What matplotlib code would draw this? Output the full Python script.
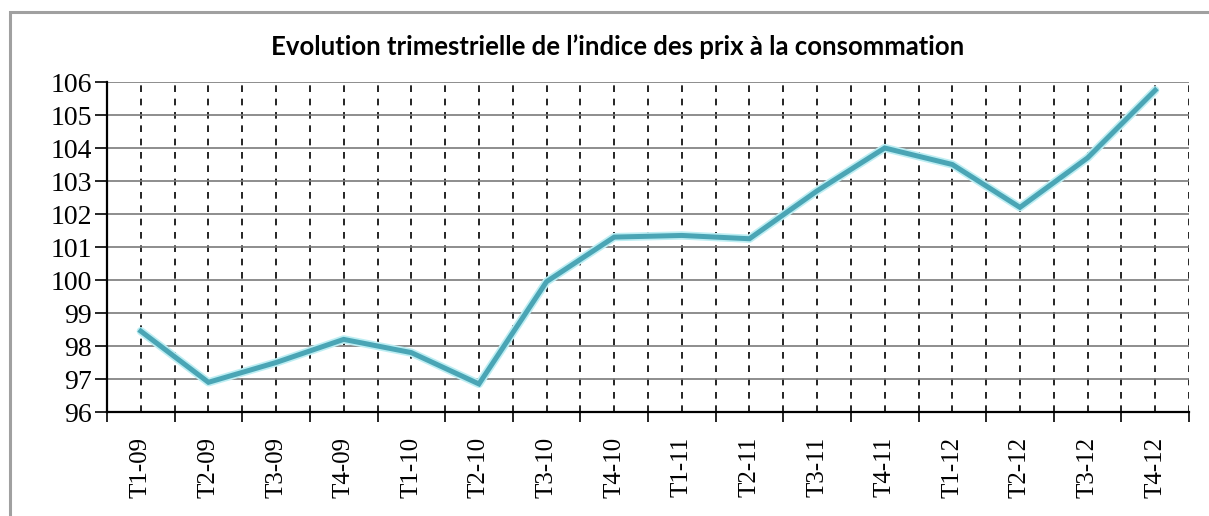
import matplotlib
matplotlib.use("Agg")
import matplotlib.pyplot as plt
from matplotlib.patches import Rectangle
import numpy as np

# Quarterly CPI values
quarters = ["T1-09", "T2-09", "T3-09", "T4-09",
            "T1-10", "T2-10", "T3-10", "T4-10",
            "T1-11", "T2-11", "T3-11", "T4-11",
            "T1-12", "T2-12", "T3-12", "T4-12"]
cpi = [98.45, 96.9, 97.5, 98.2,
       97.8, 96.85, 99.95, 101.3,
       101.35, 101.25, 102.7, 104.0,
       103.5, 102.2, 103.7, 105.75]
y_ticks = list(range(96, 107))

W, H = 1209, 516
fig = plt.figure(figsize=(W / 100, H / 100), dpi=100)
fig.patch.set_facecolor("white")

# grey frame of the chart area (runs off the right and bottom edges)
fig.patches.append(Rectangle((10 / W, -0.05), 1.1, 1 - 12 / H + 0.05,
                             transform=fig.transFigure, fill=False,
                             edgecolor="#a0a0a0", linewidth=2.2))

ax = fig.add_axes([107 / W, 1 - 412 / H, (1189 - 107) / W, (412 - 82) / H])

x = np.arange(len(quarters))
ax.plot(x, cpi, color="#bdeef3", linewidth=6, solid_capstyle="round", zorder=3)
ax.plot(x, cpi, color="#4aa5b5", linewidth=3.6, solid_joinstyle="miter", zorder=4)

ax.set_xlim(-0.5, len(quarters) - 0.5)
ax.set_ylim(96, 106)

# boundaries = major ticks, category centres = minor ticks with labels
ax.set_xticks(np.arange(-0.5, len(quarters), 1.0))
ax.set_xticklabels([])
ax.set_xticks(x, minor=True)
ax.set_xticklabels(quarters, minor=True, rotation=90,
                   family="Liberation Serif", fontsize=18)
ax.tick_params(axis="x", which="minor", length=0, pad=18)
ax.tick_params(axis="x", which="major", length=7, width=1.2, color="black")

ax.set_yticks(y_ticks)
ax.set_yticklabels([str(v) for v in y_ticks], family="Liberation Serif", fontsize=20)
ax.tick_params(axis="y", length=9, width=1.2, color="black", pad=2)

ax.grid(axis="y", color="#7a7a7a", linewidth=1.2, linestyle="-")
ax.grid(axis="x", which="both", color="black", linewidth=1.2, linestyle=(0, (4, 4)))
ax.set_axisbelow(True)

for side in ["top", "right"]:
    ax.spines[side].set_visible(False)
for side in ["left", "bottom"]:
    ax.spines[side].set_color("black")
    ax.spines[side].set_linewidth(1.6)

fig.text(618 / W, 1 - 47 / H, "Evolution trimestrielle de l\u2019indice des prix \u00e0 la consommation",
         ha="center", va="center", family="Lato", fontweight="bold", fontsize=18.5)

fig.savefig("out.png", dpi=100)
